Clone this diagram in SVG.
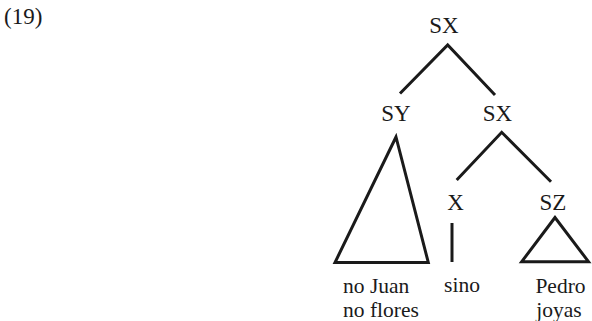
<svg xmlns="http://www.w3.org/2000/svg" width="592" height="321" viewBox="0 0 592 321">
  <style>
    .lbl { font-family: "Liberation Serif", "Times New Roman", serif; font-size: 23px; fill: #1a1a1a; }
    .leaf { font-size: 21.5px; }
    .mid { text-anchor: middle; }
    .edge { fill: none; stroke: #1a1a1a; stroke-width: 3; stroke-linejoin: miter; stroke-linecap: butt; }
  </style>
  <rect width="592" height="321" fill="#ffffff"/>

  <!-- example number -->
  <text class="lbl" x="4" y="24">(19)</text>

  <!-- branches of the tree -->
  <g id="connectors">
    <polyline class="edge" points="400,93.5 447.7,45 495,95"/>
    <polyline class="edge" points="456.7,180 501.7,132.3 551,181.7"/>
    <line class="edge" x1="452" y1="223" x2="452" y2="262"/>
  </g>

  <g id="node-sx-root">
    <text class="lbl mid" x="444" y="33">SX</text>
  </g>
  <g id="node-sy">
    <text class="lbl mid" x="396" y="121">SY</text>
    <polygon class="edge" points="396,137 335,262.5 428.3,262.5"/>
  </g>
  <g id="node-sx">
    <text class="lbl mid" x="497.5" y="121">SX</text>
  </g>
  <g id="node-x">
    <text class="lbl mid" x="455.5" y="210">X</text>
  </g>
  <g id="node-sz">
    <text class="lbl mid" x="553" y="210">SZ</text>
    <polygon class="edge" points="555,217.5 521.7,261.7 588.5,261.7"/>
  </g>

  <!-- terminal strings -->
  <g id="leaf-sy">
    <text class="lbl leaf" x="343" y="293">no Juan<tspan x="343" dy="24">no flores</tspan></text>
  </g>
  <g id="leaf-x">
    <text class="lbl leaf mid" x="462" y="292">sino</text>
  </g>
  <g id="leaf-sz">
    <text class="lbl leaf mid" x="560.5" y="293">Pedro<tspan x="559" dy="24">joyas</tspan></text>
  </g>
</svg>
